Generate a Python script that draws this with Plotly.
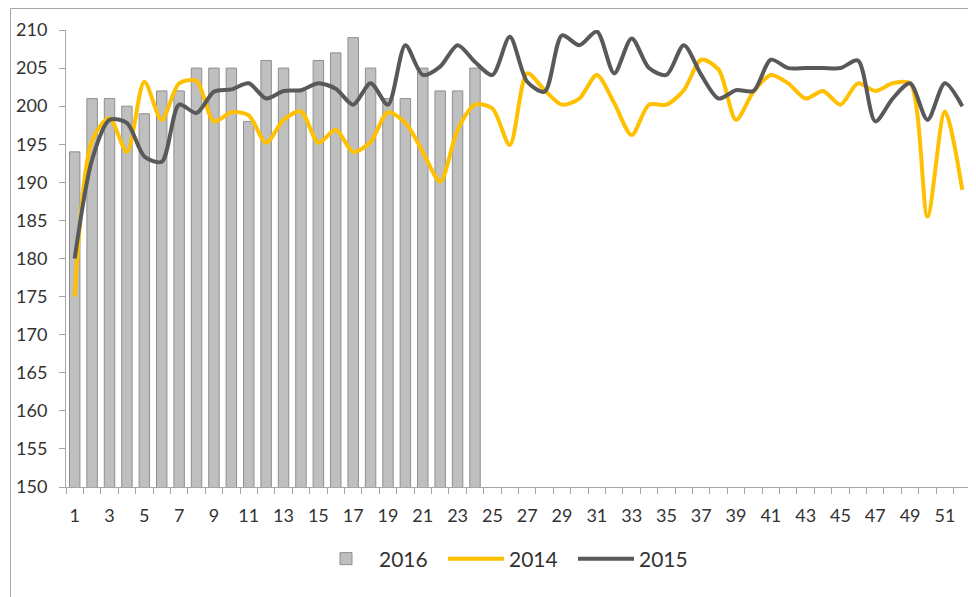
import plotly.graph_objects as go

weeks = list(range(1, 53))
weeks_2016 = list(range(1, 25))
values_2016 = [194, 201, 201, 200, 199, 202, 202, 205, 205, 205, 198, 206,
               205, 202, 206, 207, 209, 205, 201, 201, 205, 202, 202, 205]
values_2014 = [175, 195.5, 198.4, 194, 203.2, 198.2, 203, 203.3, 198, 199.2, 198.8, 195.2,
               198.2, 199.3, 195.2, 196.9, 194, 195.3, 199.2, 197.8, 194, 190.1, 196.9, 200.2,
               199.7, 194.9, 204.3, 202.1, 200.2, 201, 204.1, 200.4, 196.2, 200.2, 200.2, 202.1,
               206.1, 204.8, 198.2, 201.9, 204.1, 203, 201, 202, 200.2, 203, 202, 203,
               203, 185.5, 199.3, 189]
values_2015 = [180, 193, 198.2, 197.8, 193.4, 192.7, 200.2, 199.1, 201.9, 202.2, 203, 201,
               202, 202.1, 203, 202.3, 200.2, 203, 200.2, 208, 204.1, 205.2, 208, 205.8,
               204.1, 209.1, 203.2, 201.9, 209.3, 208, 209.8, 204.3, 208.9, 205, 204.1, 208,
               204.1, 201, 202.1, 202, 206.1, 205, 205, 205, 205, 206, 198, 201,
               203, 198.2, 203, 200]
y_ticks = list(range(150, 211, 5))
x_ticks = list(range(1, 52, 2))

fig = go.Figure()
fig.add_trace(go.Bar(
    x=weeks_2016, y=values_2016, name="2016", width=0.6,
    marker=dict(color="#bfbfbf", line=dict(color="#8f8f8f", width=1)),
))
fig.add_trace(go.Scatter(
    x=weeks, y=values_2014, name="2014", mode="lines",
    line=dict(color="#FFC000", width=4, shape="spline", smoothing=0.8),
))
fig.add_trace(go.Scatter(
    x=weeks, y=values_2015, name="2015", mode="lines",
    line=dict(color="#595959", width=4, shape="spline", smoothing=0.8),
))

# page offset from default body margin
OFF = 8
W, H = 976 - OFF, 597 - OFF
# plot area in page pixels
PL, PT, PR, PB = 66, 30, 971, 487
L, T = PL - OFF, PT - OFF
R, B = W - (PR - OFF), H - (PB - OFF)
pw, ph = W - L - R, H - T - B

def px_x(p):
    return (p - OFF - L) / pw

def px_y(p):
    return (H - B - (p - OFF)) / ph

fig.update_layout(
    width=W, height=H,
    margin=dict(l=L, r=R, t=T, b=B),
    plot_bgcolor="white", paper_bgcolor="white",
    font=dict(family="Lato, 'Open Sans', sans-serif", size=18, color="#333333"),
    bargap=0.4,
    showlegend=True,
    legend=dict(
        orientation="h", x=px_x(313), xanchor="left", y=px_y(559), yanchor="middle",
        font=dict(size=21, color="#333333"), itemwidth=56, traceorder="normal",
        entrywidth=59, entrywidthmode="pixels",
        bgcolor="rgba(0,0,0,0)",
    ),
    xaxis=dict(
        range=[0.5, 52.5], tickmode="array", tickvals=x_ticks,
        ticktext=[str(v) for v in x_ticks], ticks="", showgrid=False, zeroline=False,
        showline=True, linecolor="#a6a6a6", linewidth=1, ticklabelstandoff=12,
        minor=dict(tickmode="array", tickvals=[v + 0.5 for v in range(0, 53)],
                   ticks="outside", ticklen=6, tickcolor="#a6a6a6", tickwidth=1,
                   showgrid=False),
    ),
    yaxis=dict(
        range=[150, 210], tickmode="array", tickvals=y_ticks, ticks="outside",
        ticklen=6, tickcolor="#a6a6a6", showgrid=False, zeroline=False,
        showline=True, linecolor="#a6a6a6", linewidth=1, ticklabelstandoff=8,
    ),
    shapes=[dict(type="rect", xref="paper", yref="paper",
                 x0=px_x(10.5), y0=px_y(8.5), x1=px_x(1000), y1=px_y(620),
                 line=dict(color="#a6a6a6", width=1), fillcolor="rgba(0,0,0,0)",
                 layer="below")],
)

fig.write_html("out.html")
